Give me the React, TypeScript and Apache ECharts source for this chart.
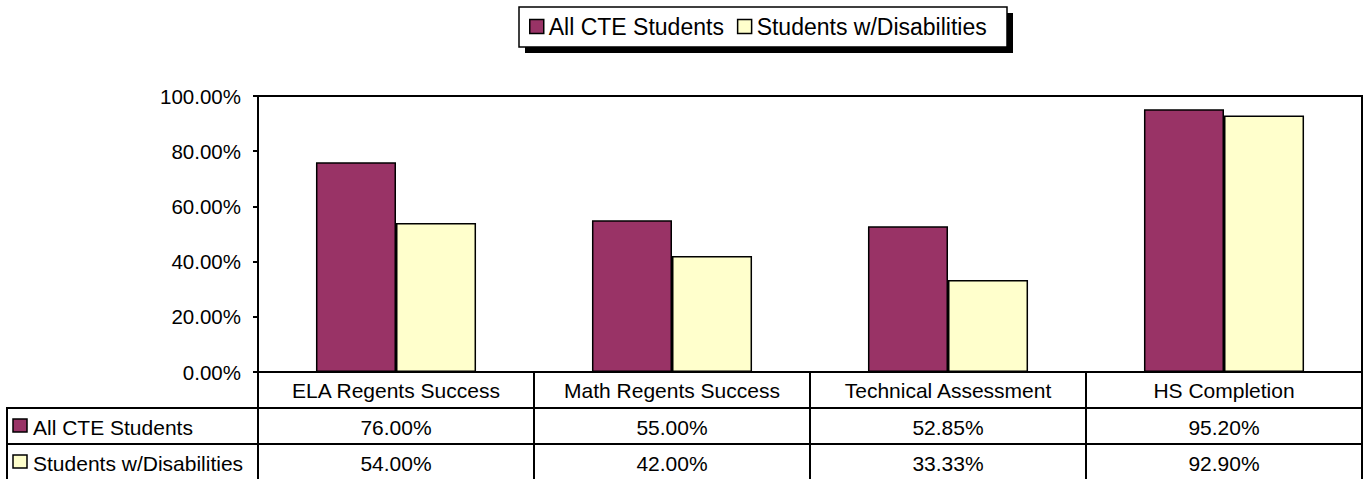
import React, { useEffect, useRef } from "react";
import * as echarts from "echarts";

const categories = ["ELA Regents Success", "Math Regents Success", "Technical Assessment", "HS Completion"];
const seriesNames = ["All CTE Students", "Students w/Disabilities"];
const allCteStudents = [76.0, 55.0, 52.85, 95.2];
const studentsWithDisabilities = [54.0, 42.0, 33.33, 92.9];
const seriesColors = ["#993366", "#FFFFCC"];
const yMin = 0;
const yMax = 100;
const yInterval = 20;

const FONT = "'Liberation Sans', Arial, sans-serif";

export default function App() {
  const ref = useRef<HTMLDivElement>(null);

  useEffect(() => {
    if (!ref.current) return;
    const chart = echarts.init(ref.current, null, { renderer: "svg" });

    const gridLeft = 258;
    const gridTop = 96;
    const gridW = 1104;
    const gridH = 276;
    const gridRight = gridLeft + gridW;
    const gridBottom = gridTop + gridH;
    const rowH = 36;
    const tableLeft = 7;
    const row1Top = gridBottom + rowH;
    const row2Top = row1Top + rowH;
    const tableBottom = 481;
    const colW = gridW / categories.length;

    const lineStyle = { stroke: "#000", lineWidth: 2 };
    const graphics: any[] = [];

    // legend box shadow and box
    graphics.push({ type: "rect", shape: { x: 525, y: 13, width: 488, height: 40 }, style: { fill: "#000" }, z: 1 });
    graphics.push({ type: "rect", shape: { x: 519, y: 7, width: 488, height: 40 }, style: { fill: "#fff", stroke: "#000", lineWidth: 1.5 }, z: 2 });

    // table horizontal lines
    [row1Top, row2Top].forEach((y) => {
      graphics.push({ type: "line", shape: { x1: tableLeft, y1: y, x2: gridRight, y2: y }, style: lineStyle, z: 10 });
    });
    // table vertical lines
    graphics.push({ type: "line", shape: { x1: tableLeft, y1: row1Top - 1, x2: tableLeft, y2: tableBottom }, style: lineStyle, z: 10 });
    for (let i = 0; i <= categories.length; i++) {
      const x = gridLeft + i * colW;
      graphics.push({ type: "line", shape: { x1: x, y1: gridBottom, x2: x, y2: tableBottom }, style: lineStyle, z: 10 });
    }

    const rows = [allCteStudents, studentsWithDisabilities];
    rows.forEach((vals, r) => {
      const cy = row1Top + r * rowH + rowH / 2;
      graphics.push({
        type: "rect",
        shape: { x: 13, y: cy - 7, width: 14, height: 13 },
        style: { fill: seriesColors[r], stroke: "#000", lineWidth: 1.5 },
        z: 10,
      });
      graphics.push({
        type: "text",
        x: 33,
        y: cy + 1,
        style: { text: seriesNames[r], font: `21px ${FONT}`, fill: "#000", verticalAlign: "middle", align: "left" },
        z: 10,
      });
      vals.forEach((v, i) => {
        graphics.push({
          type: "text",
          x: gridLeft + (i + 0.5) * colW,
          y: cy + 1,
          style: { text: v.toFixed(2) + "%", font: `21px ${FONT}`, fill: "#000", align: "center", verticalAlign: "middle" },
          z: 10,
        });
      });
    });

    chart.setOption({
      animation: false,
      backgroundColor: "#fff",
      textStyle: { fontFamily: FONT },
      legend: {
        data: seriesNames,
        left: 529,
        top: 15,
        padding: 0,
        itemGap: 13,
        itemWidth: 14,
        itemHeight: 14,
        icon: "rect",
        z: 5,
        textStyle: { fontSize: 23, color: "#000", fontFamily: FONT, lineHeight: 23 },
        itemStyle: { borderColor: "#000", borderWidth: 1.5 },
      },
      grid: {
        left: gridLeft,
        top: gridTop,
        width: gridW,
        height: gridH,
        show: true,
        borderColor: "#000",
        borderWidth: 2,
        containLabel: false,
      },
      xAxis: {
        type: "category",
        data: categories,
        axisLine: { show: true, lineStyle: { color: "#000", width: 2 } },
        axisTick: { show: false },
        axisLabel: { color: "#000", fontSize: 21, fontFamily: FONT, margin: 8, interval: 0 },
        splitLine: { show: false },
      },
      yAxis: {
        type: "value",
        min: yMin,
        max: yMax,
        interval: yInterval,
        axisLine: { show: true, lineStyle: { color: "#000", width: 2 } },
        axisTick: { show: true, inside: false, length: 5, lineStyle: { color: "#000", width: 2 } },
        axisLabel: { color: "#000", fontSize: 20.5, fontFamily: FONT, margin: 17, formatter: (v: number) => v.toFixed(2) + "%" },
        splitLine: { show: false },
      },
      series: [
        {
          name: seriesNames[0],
          type: "bar",
          data: allCteStudents,
          barGap: "0%",
          barCategoryGap: "42%",
          itemStyle: { color: seriesColors[0], borderColor: "#000", borderWidth: 1.5 },
        },
        {
          name: seriesNames[1],
          type: "bar",
          data: studentsWithDisabilities,
          barGap: "0%",
          barCategoryGap: "42%",
          itemStyle: { color: seriesColors[1], borderColor: "#000", borderWidth: 1.5 },
        },
      ],
      graphic: { elements: graphics },
    });

    return () => chart.dispose();
  }, []);

  return <div ref={ref} style={{ position: "fixed", left: 0, top: 0, width: 1367, height: 479 }} />;
}
